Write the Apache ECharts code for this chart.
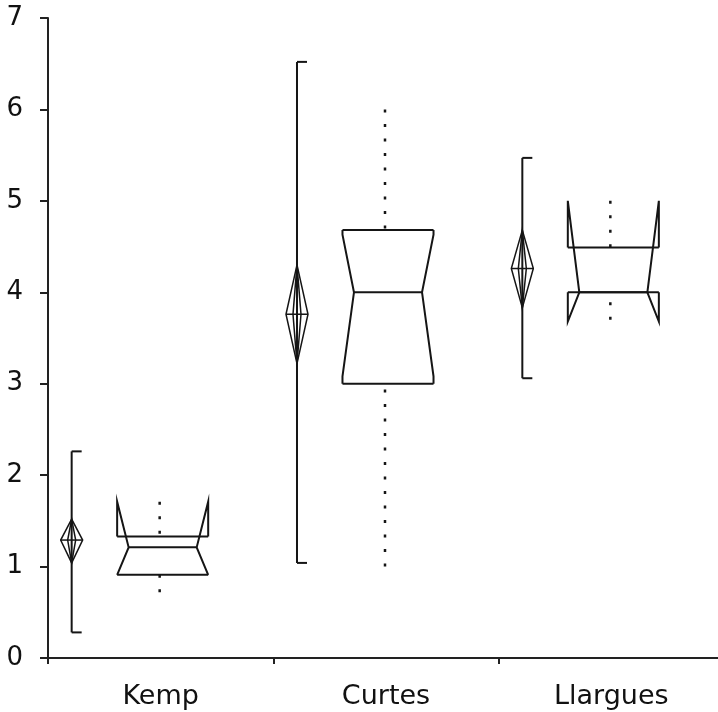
<!DOCTYPE html>
<html><head><meta charset="utf-8">
<script src="https://cdn.jsdelivr.net/npm/echarts@6/dist/echarts.min.js"></script>
<style>html,body{margin:0;padding:0;background:#fff}#c{width:718px;height:712px}</style>
</head><body><div id="c"></div>
<script>
const categories = ['Kemp', 'Curtes', 'Llargues'];
const yTicks = [0, 1, 2, 3, 4, 5, 6, 7];
// mean with confidence diamond and range bar (left mark in each group)
const meanValues = [1.29, 3.76, 4.26];
const meanLow = [1.04, 3.22, 3.83];
const meanHigh = [1.52, 4.30, 4.68];
const rangeLow = [0.28, 1.04, 3.06];
const rangeHigh = [2.26, 6.52, 5.47];
// notched box plot (right mark in each group)
const whiskerLow = [0.72, 1.00, 3.70];
const q1 = [0.91, 3.00, 4.00];
const medians = [1.21, 4.00, 4.00];
const q3 = [1.33, 4.68, 4.49];
const whiskerHigh = [1.71, 6.00, 5.00];
const notchLow = [0.91, 3.08, 3.68];
const notchHigh = [1.71, 4.63, 5.00];

const rows = categories.map((c, i) => [i, meanValues[i], meanLow[i], meanHigh[i], rangeLow[i], rangeHigh[i],
  whiskerLow[i], q1[i], medians[i], q3[i], whiskerHigh[i], notchLow[i], notchHigh[i]]);

const INK = '#151515';
function renderItem(params, api) {
  const i = api.value(0);
  const band = api.size([1, 0])[0];
  const cx = api.coord([i, 0])[0];
  const Y = k => api.coord([i, api.value(k)])[1];
  const ch = [];
  const line = (x1, y1, x2, y2, w, dash) => ch.push({
    type: 'line', shape: { x1, y1, x2, y2 },
    style: { stroke: INK, lineWidth: w || 2, lineDash: dash || null }
  });
  // range bar with right-hand caps
  const ex = cx - 0.395 * band;
  line(ex, Y(4), ex, Y(5), 2);
  line(ex, Y(5), ex + 10, Y(5), 2);
  line(ex, Y(4), ex + 10, Y(4), 2);
  // diamond
  const hw = 11, iw = 4;
  const ym = Y(1), yl = Y(2), yh = Y(3);
  ch.push({ type: 'polygon', shape: { points: [[ex, yh], [ex + hw, ym], [ex, yl], [ex - hw, ym]] },
    style: { fill: 'none', stroke: INK, lineWidth: 1.5 } });
  ch.push({ type: 'polygon', shape: { points: [[ex, yh], [ex + iw, ym], [ex, yl], [ex - iw, ym]] },
    style: { fill: 'none', stroke: INK, lineWidth: 1.5 } });
  line(ex - hw, ym, ex + hw, ym, 1.5);
  // notched box
  const bc = cx + 2, bh = 0.202 * band, inset = 0.051 * band;
  const L = bc - bh, R = bc + bh, Li = L + inset, Ri = R - inset;
  const yQ1 = Y(7), yMed = Y(8), yQ3 = Y(9), yNL = Y(11), yNH = Y(12);
  line(L, yQ3, R, yQ3, 2);
  line(L, yQ1, R, yQ1, 2);
  line(Li, yMed, Ri, yMed, 2);
  ch.push({ type: 'polyline', shape: { points: [[L, yQ1], [L, yNL], [Li, yMed], [L, yNH], [L, yQ3]] },
    style: { fill: 'none', stroke: INK, lineWidth: 2 } });
  ch.push({ type: 'polyline', shape: { points: [[R, yQ1], [R, yNL], [Ri, yMed], [R, yNH], [R, yQ3]] },
    style: { fill: 'none', stroke: INK, lineWidth: 2 } });
  // dotted whiskers
  const wx = cx - 1;
  line(wx, Y(10), wx, yQ3, 2.5, [3, 11.5]);
  line(wx, Y(6), wx, yQ1, 2.5, [3, 11.5]);
  return { type: 'group', children: ch };
}

const chart = echarts.init(document.getElementById('c'), null, { renderer: 'canvas' });
chart.setOption({
  animation: false,
  backgroundColor: '#fff',
  grid: { left: 48, width: 676, top: 18, bottom: 54, containLabel: false, outerBoundsMode: 'none' },
  xAxis: {
    type: 'category', data: categories, boundaryGap: true,
    axisLine: { lineStyle: { color: '#222', width: 2 } },
    axisTick: { show: true, length: 6, lineStyle: { color: '#222', width: 2 } },
    axisLabel: { color: '#111', fontFamily: 'DejaVu Sans', fontSize: 27, margin: 25 },
    splitLine: { show: false }
  },
  yAxis: {
    type: 'value', min: yTicks[0], max: yTicks[yTicks.length - 1], interval: 1,
    axisLine: { show: true, lineStyle: { color: '#222', width: 2 } },
    axisTick: { show: true, length: 8, lineStyle: { color: '#222', width: 2 } },
    axisLabel: { color: '#111', fontFamily: 'DejaVu Sans', fontSize: 26, margin: 25 },
    splitLine: { show: false }
  },
  series: [{ type: 'custom', renderItem, data: rows, encode: { x: 0, y: [4, 5] }, clip: false }]
});
</script></body></html>
